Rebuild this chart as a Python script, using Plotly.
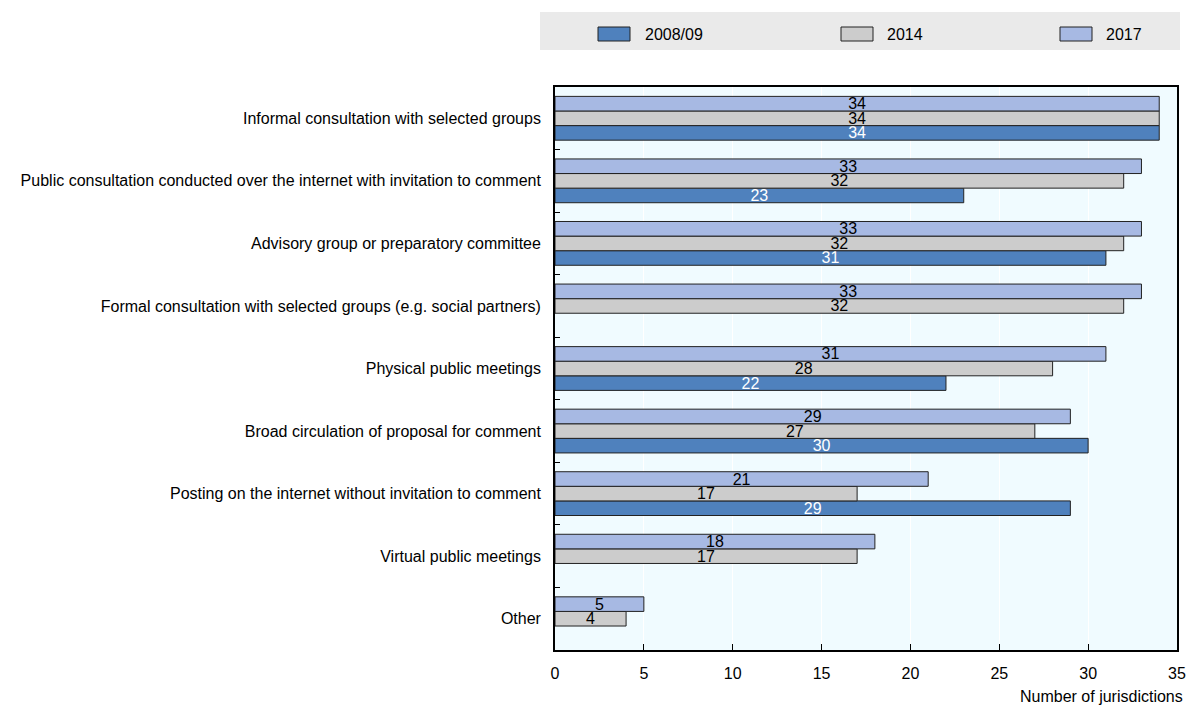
import plotly.graph_objects as go

categories = [
    "Informal consultation with selected groups",
    "Public consultation conducted over the internet with invitation to comment",
    "Advisory group or preparatory committee",
    "Formal consultation with selected groups (e.g. social partners)",
    "Physical public meetings",
    "Broad circulation of proposal for comment",
    "Posting on the internet without invitation to comment",
    "Virtual public meetings",
    "Other",
]
series_names = ["2008/09", "2014", "2017"]
v2008 = [34, 23, 31, None, 22, 30, 29, None, None]
v2014 = [34, 32, 32, 32, 28, 27, 17, 17, 4]
v2017 = [34, 33, 33, 33, 31, 29, 21, 18, 5]
x_ticks = [0, 5, 10, 15, 20, 25, 30, 35]

colors = ["#4F81BD", "#CCCCCC", "#A7B9E3"]
text_colors = ["white", "black", "black"]

FONT = "Liberation Sans, Arial, sans-serif"
W, H = 1188, 705
L, R, T, B = 555, 11, 87, 55
PW, PH = W - L - R, H - T - B


def px_x(p):
    return (p - L) / PW


def px_y(p):
    return (H - B - p) / PH


fig = go.Figure()
for name, vals, color, tcolor in zip(series_names, [v2008, v2014, v2017], colors, text_colors):
    fig.add_trace(go.Bar(
        y=categories, x=vals, name=name, orientation="h",
        marker=dict(color=color, line=dict(color="#222222", width=1)),
        text=[("" if v is None else str(v)) for v in vals],
        textposition="inside", insidetextanchor="middle", textangle=0,
        constraintext="none", cliponaxis=False,
        textfont=dict(color=tcolor, size=16, family=FONT),
        showlegend=False,
    ))

# custom legend (wide rectangular swatches on a grey band)
shapes = [dict(type="rect", xref="paper", yref="paper", x0=px_x(540), x1=px_x(1180),
               y0=px_y(50), y1=px_y(12), fillcolor="#EAEAEA", line=dict(width=0), layer="below")]
annotations = []
swatch_x = [598, 841, 1060]
text_x = [645, 887, 1106]
for name, color, sx, tx in zip(series_names, colors, swatch_x, text_x):
    shapes.append(dict(type="rect", xref="paper", yref="paper", x0=px_x(sx), x1=px_x(sx + 32),
                       y0=px_y(41), y1=px_y(27), fillcolor=color,
                       line=dict(color="#222222", width=1)))
    annotations.append(dict(text=name, xref="paper", yref="paper", x=px_x(tx - 2), y=px_y(34),
                            xanchor="left", yanchor="middle", showarrow=False,
                            font=dict(size=16, family=FONT, color="black")))

annotations.append(dict(text="Number of jurisdictions", xref="paper", yref="paper",
                        x=px_x(1185), y=0, xanchor="right", yanchor="top", yshift=-36,
                        showarrow=False, font=dict(size=16, family=FONT, color="black")))

fig.update_layout(
    barmode="group", bargap=0.3, bargroupgap=0,
    width=W, height=H,
    margin=dict(l=L, r=R, t=T, b=B, autoexpand=False),
    paper_bgcolor="white", plot_bgcolor="#F0FBFF",
    font=dict(family=FONT, size=16, color="black"),
    showlegend=False,
    xaxis=dict(range=[0, 35], tickvals=x_ticks, showgrid=True, gridcolor="white", gridwidth=1,
               ticks="inside", ticklen=6, tickcolor="black", tickwidth=1,
               showline=True, linecolor="black", linewidth=2, mirror=True,
               zeroline=False, ticklabelstandoff=8, automargin=False,
               tickfont=dict(size=16, family=FONT)),
    yaxis=dict(categoryorder="array", categoryarray=list(reversed(categories)),
               ticks="inside", tickson="boundaries", ticklen=5, tickcolor="black",
               showline=True, linecolor="black", linewidth=2, mirror=True,
               showgrid=False, ticksuffix="  ", automargin=False,
               tickfont=dict(size=16, family=FONT)),
    shapes=shapes,
    annotations=annotations,
)

fig.write_html(
    "out.html",
    config={"displayModeBar": False},
    post_script="document.body.style.margin='0';document.body.style.overflow='hidden';",
)
